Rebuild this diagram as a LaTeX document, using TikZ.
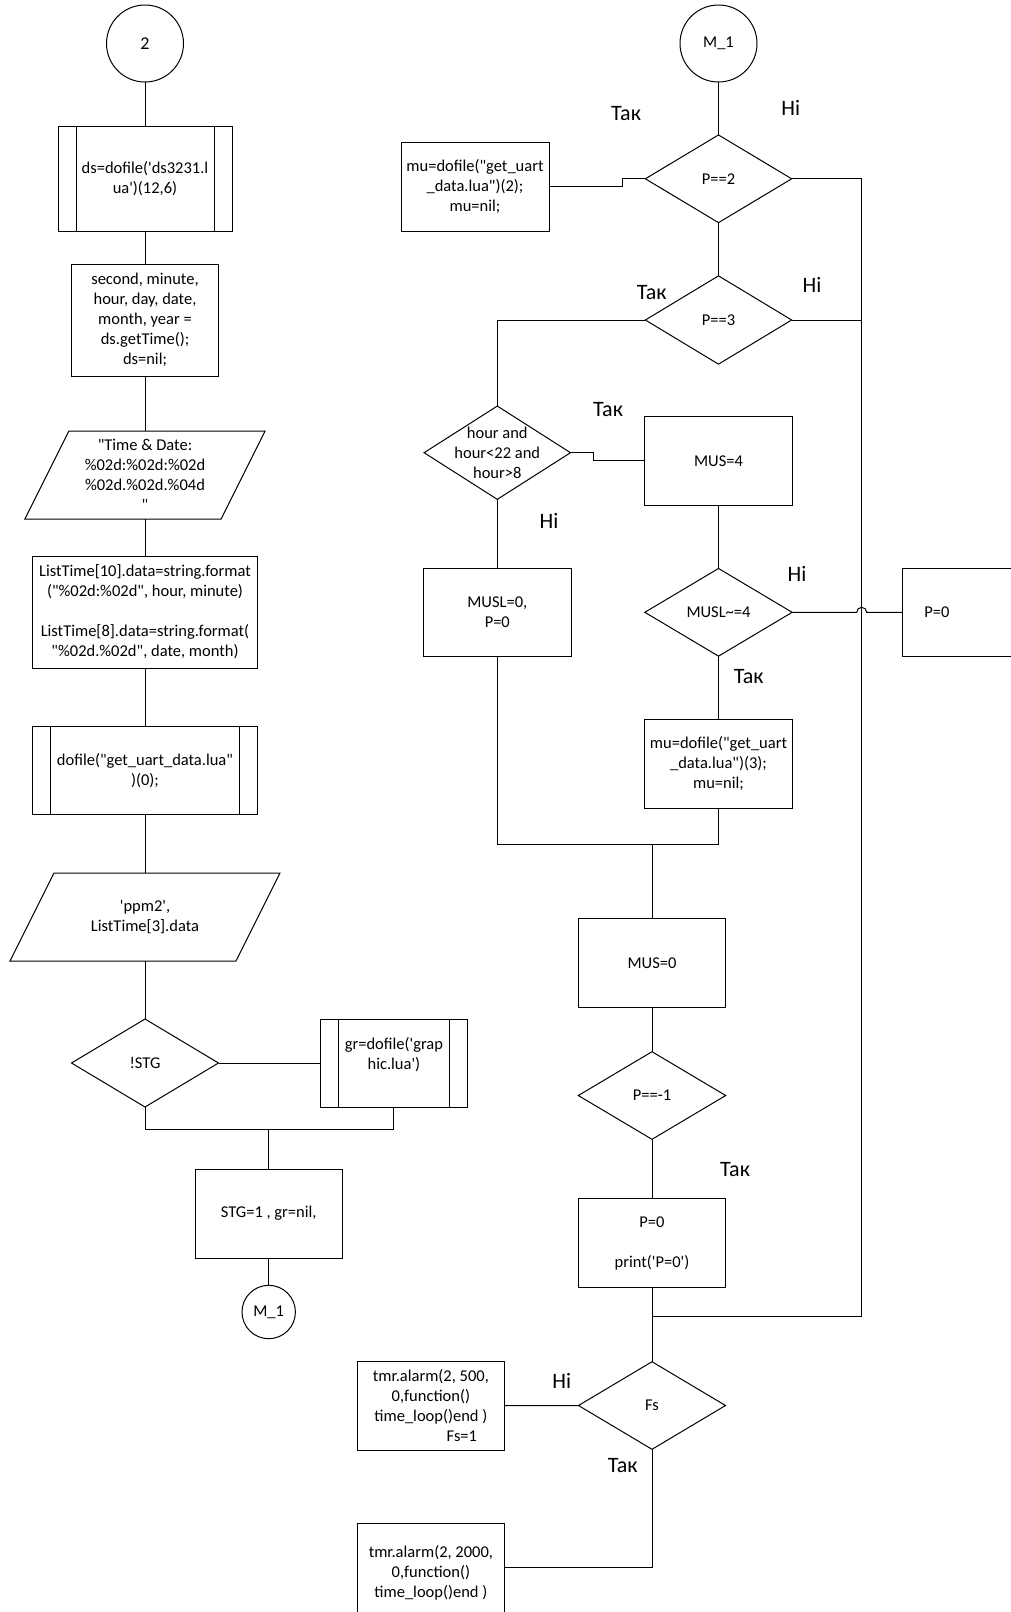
\documentclass[tikz,border=0pt]{standalone}
\usepackage{fontspec}
\setmainfont{Carlito}
\usetikzlibrary{shapes.geometric}
\newcommand\sqt{\textquotesingle}
\newcommand\dqt{\textquotedbl}
\begin{document}
\begin{tikzpicture}[x=1pt,y=-1pt,
  every node/.style={font=\fontsize{16.5}{20}\selectfont, inner sep=0pt, outer sep=0pt},
  ln/.style={line width=1pt},
  box/.style={draw, ln, rectangle, align=center},
  sub/.style={box, path picture={
     \draw[ln] ([xshift=18pt]path picture bounding box.north west) -- ([xshift=18pt]path picture bounding box.south west);
     \draw[ln] ([xshift=-18pt]path picture bounding box.north east) -- ([xshift=-18pt]path picture bounding box.south east);}},
  dia/.style={draw, ln, diamond, align=center},
  ghost/.style={rectangle, align=center},
  circ/.style={draw, ln, circle, align=center},
  lbl/.style={font=\fontsize{22}{26}\selectfont},
]
\fill[white] (0,0) rectangle (1010,1612);
\useasboundingbox (0,0) rectangle (1010,1612);

% ---------------- left column ----------------
\node[circ, minimum size=77pt, font=\fontsize{18}{22}\selectfont] (c2) at (145,43.5) {2};
\node[sub, minimum width=174pt, minimum height=104.5pt] (ds) at (145,179)
  {ds=dofile(\sqt ds3231.l\\ua\sqt)(12,6)};
\node[box, minimum width=147.7pt, minimum height=112pt] (sec) at (145,320)
  {second, minute,\\hour, day, date,\\month, year =\\ds.getTime();\\ds=nil;};
\node[ghost, minimum width=196.3pt, minimum height=88pt] (time) at (145,475)
  {\dqt Time \& Date:\\\%02d:\%02d:\%02d\\\%02d.\%02d.\%04d\\\dqt};
\draw[ln] ([xshift=22pt]time.north west) -- ([xshift=22pt]time.north east)
  -- ([xshift=-22pt]time.south east) -- ([xshift=-22pt]time.south west) -- cycle;
\node[box, minimum width=225.3pt, minimum height=112pt] (lt) at (145,612)
  {ListTime[10].data=string.format\\(\dqt\%02d:\%02d\dqt, hour, minute)\\[20pt]ListTime[8].data=string.format(\\\dqt\%02d.\%02d\dqt, date, month)};
\node[sub, minimum width=225.3pt, minimum height=87.8pt] (df) at (145,770.6)
  {dofile(\dqt get\_uart\_data.lua\dqt\\)(0);};
\node[ghost, minimum width=226pt, minimum height=88pt] (ppm) at (145,917)
  {\sqt ppm2\sqt,\\ListTime[3].data};
\draw[ln] ([xshift=22pt]ppm.north west) -- ([xshift=22pt]ppm.north east)
  -- ([xshift=-22pt]ppm.south east) -- ([xshift=-22pt]ppm.south west) -- cycle;
\node[dia, minimum width=147pt, minimum height=88pt] (stg) at (145,1063) {!STG};
\node[sub, minimum width=147.7pt, minimum height=88pt,
  label={[align=center, yshift=8pt]center:gr=dofile(\sqt grap\\hic.lua\sqt)}] (gr) at (393.9,1063) {};
\coordinate (lj) at (268.7,1129.5);
\node[box, minimum width=147.3pt, minimum height=89pt] (stgb) at (268.7,1213.5) {STG=1 , gr=nil,};
\node[circ, minimum size=53.4pt] (m1b) at (268.7,1312) {M\_1};

\draw[ln] (c2.south) -- (ds.north);
\draw[ln] (ds.south) -- (sec.north);
\draw[ln] (sec.south) -- (time.north);
\draw[ln] (time.south) -- (lt.north);
\draw[ln] (lt.south) -- (df.north);
\draw[ln] (df.south) -- (ppm.north);
\draw[ln] (ppm.south) -- (stg.north);
\draw[ln] (stg.east) -- (gr.west);
\draw[ln] (stg.south) |- (lj) -| (gr.south);
\draw[ln] (lj) -- (stgb.north);
\draw[ln] (stgb.south) -- (m1b.north);

% ---------------- right column ----------------
\node[circ, minimum size=77pt] (m1t) at (718.5,43.5) {M\_1};
\node[dia, minimum width=146.3pt, minimum height=87.7pt] (p2) at (718.5,178.8) {P==2};
\node[box, minimum width=148pt, minimum height=88.3pt] (mu2) at (475,186.9)
  {mu=dofile(\dqt get\_uart\\\_data.lua\dqt)(2);\\mu=nil;};
\node[dia, minimum width=146.3pt, minimum height=88.3pt] (p3) at (718.5,320) {P==3};
\node[dia, minimum width=146.4pt, minimum height=93.3pt,
  label={[align=center]center:hour and\\hour<22 and\\hour>8}] (hr) at (497.3,452.7) {};
\node[box, minimum width=147.8pt, minimum height=88.3pt] (mus4) at (718.5,460.9) {MUS=4};
\node[box, minimum width=148pt, minimum height=88.4pt] (musl0) at (497.3,612.5) {MUSL=0,\\P=0};
\node[dia, minimum width=147.3pt, minimum height=87.7pt] (musl) at (718.5,612.3) {MUSL\textasciitilde=4};
\node[box, minimum width=148pt, minimum height=88.4pt] (p0r) at (976.7,612.3) {};
\node (p0t) at (937,612.3) {P=0};
\node[box, minimum width=147.8pt, minimum height=89pt] (mu3) at (718.5,763.8)
  {mu=dofile(\dqt get\_uart\\\_data.lua\dqt)(3);\\mu=nil;};
\coordinate (jt) at (652,844.7);
\node[box, minimum width=147.4pt, minimum height=88.7pt] (mus0) at (652,962.7) {MUS=0};
\node[dia, minimum width=147.4pt, minimum height=87.6pt] (pm1) at (652,1095.5) {P==-1};
\node[box, minimum width=147.4pt, minimum height=88.3pt] (pp) at (652,1243.1)
  {P=0\\[20pt]print(\sqt P=0\sqt)};
\coordinate (bj) at (652,1316.7);
\coordinate (rb) at (861.7,1316.7);
\node[dia, minimum width=147pt, minimum height=87.6pt] (fs) at (652,1405.5) {Fs};
\node[box, minimum width=147.7pt, minimum height=88.7pt] (t500) at (430.9,1405.7)
  {tmr.alarm(2, 500,\\0,function()\\time\_loop()end )\\\hspace*{62pt}Fs=1};
\node[box, minimum width=147.7pt, minimum height=88.7pt,
  label={[align=center, yshift=-5pt]center:tmr.alarm(2, 2000,\\0,function()\\time\_loop()end )}] (t2000) at (430.9,1567.7) {};

\draw[ln] (m1t.south) -- (p2.north);
\draw[ln] (mu2.east) -- ++(73.3,0) |- (p2.west);
\draw[ln] (p2.south) -- (p3.north);
\draw[ln] (p2.east) -| (rb) -- (bj);
\draw[ln] (p3.east) -- (p3.east -| rb);
\draw[ln] (p3.west) -| (hr.north);
\draw[ln] (hr.east) -- ++(23,0) |- (mus4.west);
\draw[ln] (hr.south) -- (musl0.north);
\draw[ln] (mus4.south) -- (musl.north);
\draw[ln] (musl.east) -- (856.7,612.3) arc[start angle=180, end angle=360, radius=5] -- (p0r.west);
\draw[ln] (musl.south) -- (mu3.north);
\draw[ln] (musl0.south) |- (jt) -| (mu3.south);
\draw[ln] (jt) -- (mus0.north);
\draw[ln] (mus0.south) -- (pm1.north);
\draw[ln] (pm1.south) -- (pp.north);
\draw[ln] (pp.south) -- (fs.north);
\draw[ln] (fs.west) -- (t500.east);
\draw[ln] (fs.south) |- (t2000.east);

% ---------------- labels ----------------
\node[lbl] (l1) at (626,114) {Так};
\node[lbl] (l2) at (790.7,107.7) {Ні};
\node[lbl] (l3) at (651.7,292.7) {Так};
\node[lbl] (l4) at (812,285) {Ні};
\node[lbl] (l5) at (608,410) {Так};
\node[lbl] (l6) at (549,520.7) {Ні};
\node[lbl] (l7) at (797,574) {Ні};
\node[lbl] (l8) at (748.7,676.8) {Так};
\node[lbl] (l9) at (735,1170) {Так};
\node[lbl] (l10) at (561.7,1380.7) {Ні};
\node[lbl] (l11) at (622.7,1466) {Так};
\end{tikzpicture}
\end{document}
